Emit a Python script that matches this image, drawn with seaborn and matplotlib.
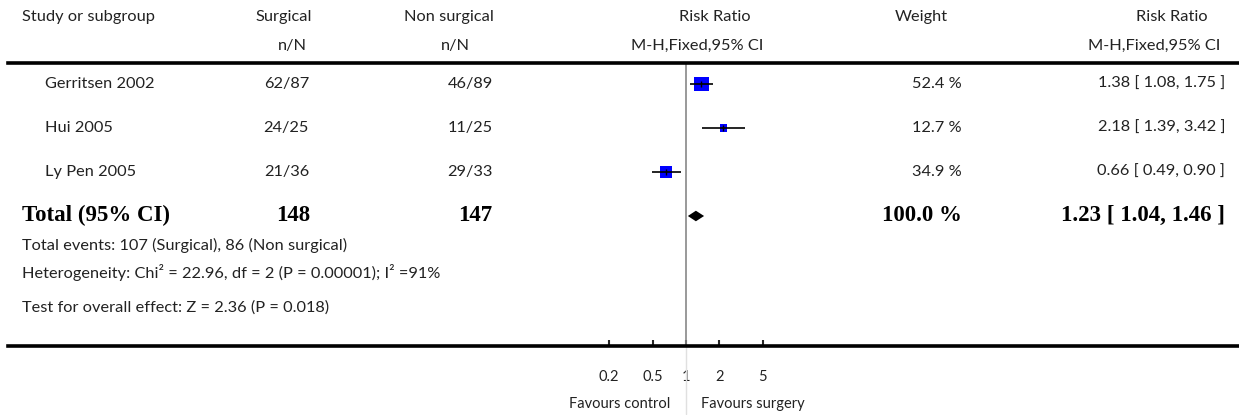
import numpy as np
import pandas as pd
import matplotlib
matplotlib.use("Agg")
import matplotlib.pyplot as plt
import seaborn as sns

studies = ["Gerritsen 2002", "Hui 2005", "Ly Pen 2005"]
surg_events = [62, 24, 21]
surg_total = [87, 25, 36]
non_events = [46, 11, 29]
non_total = [89, 25, 33]
weights = [52.4, 12.7, 34.9]
rr = [1.38, 2.18, 0.66]
rr_lo = [1.08, 1.39, 0.49]
rr_hi = [1.75, 3.42, 0.90]

total_rr, total_lo, total_hi = 1.23, 1.04, 1.46
total_surg, total_non = 148, 147
total_weight = 100.0

foot_lines = [
    "Total events: 107 (Surgical), 86 (Non surgical)",
    "Heterogeneity: Chi² = 22.96, df = 2 (P = 0.00001); I² =91%",
    "Test for overall effect: Z = 2.36 (P = 0.018)",
]
tick_vals = [0.2, 0.5, 1, 2, 5]
tick_labels = ["0.2", "0.5", "1", "2", "5"]

sns.set_theme(style="white")
plt.rcParams["font.family"] = ["Lato", "DejaVu Sans"]

W, H = 1239, 415
fig = plt.figure(figsize=(W / 100, H / 100), dpi=100)

# pixel helpers
def fx(px):
    return px / W

def fy(py):
    return 1 - py / H

txt = "#222222"
fs = 11.8
bold = dict(family=["Liberation Serif"], fontweight="bold", fontsize=16.5, color="black")

def put(px, py, s, ha="left", **kw):
    opts = dict(fontsize=fs, color=txt)
    opts.update(kw)
    fig.text(fx(px), fy(py), s, ha=ha, va="center", **opts)

# forest axes (1 at px 686, 110 px per decade)
top_px, bot_px, left_px = 63.5, 346, 8
ax = fig.add_axes([fx(left_px), fy(bot_px), fx(W - left_px), (bot_px - top_px) / H])
ax.set_xscale("log")
ax.set_xlim(10 ** ((left_px - 686) / 110), 10 ** ((W - 686) / 110))
row_h = 44
ax.set_ylim((bot_px - 84) / row_h, -(84 - top_px) / row_h)

df = pd.DataFrame({"study": studies, "rr": rr, "lo": rr_lo, "hi": rr_hi,
                   "w": weights, "row": np.arange(len(studies))})

sns.scatterplot(data=df, x="rr", y="row", size="w",
                sizes=(2.22 * min(weights), 2.22 * max(weights)),
                marker="s", color="#0000ff", linewidth=0, legend=False,
                ax=ax, zorder=2)
ax.hlines(df["row"], df["lo"], df["hi"], color="black", lw=1.2, zorder=3)
ax.plot(df["rr"], df["row"], ls="none", marker="|", ms=5, mew=1, color="black", zorder=4)

trow = len(studies)
ax.fill([total_lo, total_rr, total_hi, total_rr],
        [trow, trow - 0.12, trow, trow + 0.12], color="black", lw=0, zorder=3)

ax.axvline(1, color="#888888", lw=1.2, zorder=1)
ax.axvline(1, ymin=-0.24, ymax=0, color="#e0e0e0", lw=1, clip_on=False)

for s in ["left", "right"]:
    ax.spines[s].set_visible(False)
for s in ["top", "bottom"]:
    ax.spines[s].set_linewidth(2.6)
    ax.spines[s].set_color("black")
ax.set_yticks([])
ax.minorticks_off()
ax.set_xticks(tick_vals)
ax.set_xticklabels(tick_labels)
ax.tick_params(axis="x", direction="in", length=4, width=1.5, pad=17,
               labelsize=10.5, labelcolor=txt, bottom=True)
ax.set_xlabel("")
ax.set_ylabel("")
ax.patch.set_alpha(0)

ax.annotate("Favours control", xy=(1, 0), xycoords=("data", "axes fraction"),
            xytext=(-11, -42), textcoords="offset points", ha="right", va="center",
            fontsize=10.5, color=txt, annotation_clip=False)
ax.annotate("Favours surgery", xy=(1, 0), xycoords=("data", "axes fraction"),
            xytext=(11, -42), textcoords="offset points", ha="left", va="center",
            fontsize=10.5, color=txt, annotation_clip=False)

# header
put(22, 17, "Study or subgroup")
put(312, 17, "Surgical", ha="right")
put(307, 46, "n/N", ha="right")
put(494, 17, "Non surgical", ha="right")
put(470, 46, "n/N", ha="right")
put(751, 17, "Risk Ratio", ha="right")
put(763, 46, "M-H,Fixed,95% CI", ha="right")
put(948, 17, "Weight", ha="right")
put(1208, 17, "Risk Ratio", ha="right")
put(1220, 46, "M-H,Fixed,95% CI", ha="right")

for i in range(len(studies)):
    py = 84 + row_h * i
    put(45, py, studies[i])
    put(309, py, f"{surg_events[i]}/{surg_total[i]}", ha="right")
    put(493, py, f"{non_events[i]}/{non_total[i]}", ha="right")
    put(962, py, f"{weights[i]:.1f} %", ha="right")
    put(1225, py, f"{rr[i]:.2f} [ {rr_lo[i]:.2f}, {rr_hi[i]:.2f} ]", ha="right")

put(22, 215, "Total (95% CI)", **bold)
put(310, 215, str(total_surg), ha="right", **bold)
put(492, 215, str(total_non), ha="right", **bold)
put(962, 215, f"{total_weight:.1f} %", ha="right", **bold)
put(1225, 215, f"{total_rr:.2f} [ {total_lo:.2f}, {total_hi:.2f} ]", ha="right", **bold)

for py, line in zip([245, 272, 308], foot_lines):
    put(22, py, line)

fig.savefig("out.png", dpi=100)
